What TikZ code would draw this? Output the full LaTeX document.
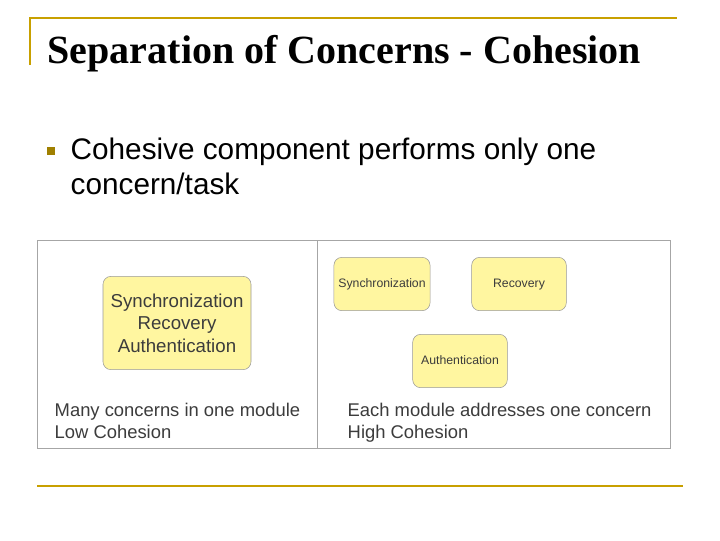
\documentclass[tikz,border=0pt]{standalone}
\usepackage{fontspec}
\setmainfont{Liberation Serif}
\setsansfont{Liberation Sans}
\usetikzlibrary{positioning}
\definecolor{gold}{RGB}{200,160,0}
\definecolor{boxfill}{RGB}{255,246,160}
\definecolor{capgray}{RGB}{60,60,60}
\begin{document}
\begin{tikzpicture}[x=0.75pt,y=-0.75pt,
    concern/.style={rectangle, draw=gray!80, fill=boxfill, rounded corners=6pt, font=\sffamily\fontsize{9.2}{11}\selectfont, text=capgray, text height=7pt, text depth=2pt},
    caption/.style={anchor=north west, font=\sffamily\fontsize{13.8}{16.5}\selectfont, text=capgray}
    ]
    \useasboundingbox (0,0) rectangle (720,540);
    % frame lines
    \draw[gold, line width=1.5pt] (30,65) -- (30,18) -- (677,18);
    \draw[gold, line width=1.5pt] (37,486) -- (683,486);
    \node[anchor=base west, font=\bfseries\fontsize{30}{33}\selectfont] (title) at (43,63) {Separation of Concerns - Cohesion};
    % bullet
    \node[fill=gold!80!black, minimum size=6pt, inner sep=0pt] (bullet) at (51,151) {};
    \node[anchor=north west, align=left, font=\sffamily\fontsize{22.3}{26.5}\selectfont] (point) at (66,133) {Cohesive component performs only one\\concern/task};
    % figure panel
    \draw[gray!70, fill=white] (37,240) rectangle (670,448);
    \draw[gray!70] (317,240) -- (317,448);
    \node[concern, minimum width=111pt, minimum height=70pt, align=center, text height=, text depth=, font=\sffamily\fontsize{14}{17}\selectfont] (all) at (177,323) {Synchronization\\Recovery\\Authentication};
    \node[concern, minimum width=71pt, minimum height=40pt] (sync) at (382,284) {Synchronization};
    \node[concern, minimum width=71pt, minimum height=40pt] (rec) at (519,284) {Recovery};
    \node[concern, minimum width=71pt, minimum height=40pt] (auth) at (460,361) {Authentication};
    \node[caption, align=left] (low) at (50,398) {Many concerns in one module\\Low Cohesion};
    \node[caption, align=left] (high) at (343,398) {Each module addresses one concern\\High Cohesion};
\end{tikzpicture}
\end{document}
